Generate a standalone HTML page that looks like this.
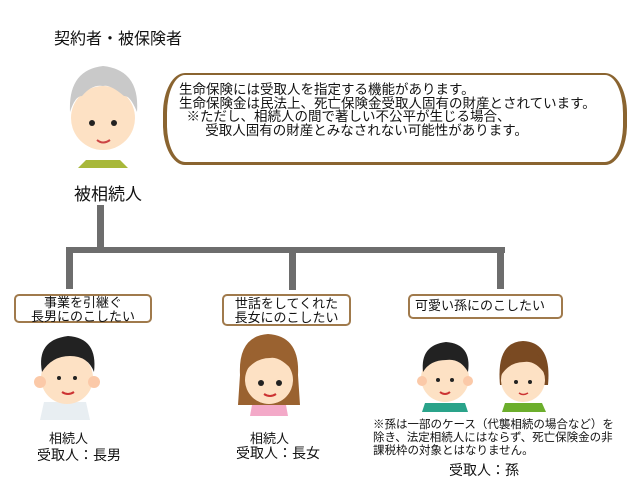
<!DOCTYPE html><html><head><meta charset="utf-8"><style>
body{margin:0;width:640px;height:480px;background:#fff;position:relative;overflow:hidden;font-family:"Liberation Sans","Noto Sans CJK JP",sans-serif;color:#111}
.t{position:absolute;white-space:nowrap}
.box{position:absolute;border:2px solid #a07a4c;border-radius:5px;background:#fff;box-sizing:border-box;font-size:13px;line-height:14px;text-align:center}
.ln{position:absolute;background:#6d6d6d}
</style></head><body>
<div class="t" style="left:54px;top:25px;font-size:16px">契約者・被保険者</div>
<div class="t" style="left:74px;top:180px;font-size:17px">被相続人</div>

<div style="position:absolute;left:163px;top:73px;width:464px;height:92px;border:4px solid #8a6430;border-radius:22px/40px;box-sizing:border-box;border-top-width:2px;border-bottom-width:3px"></div>
<div class="t" style="left:179px;top:83px;font-size:13.5px;line-height:13.6px">生命保険には受取人を指定する機能があります。<br>生命保険金は民法上、死亡保険金受取人固有の財産とされています。<br>&nbsp;&nbsp;※ただし、相続人の間で著しい不公平が生じる場合、<br>&nbsp;&nbsp;&nbsp;&nbsp;&nbsp;&nbsp;&nbsp;受取人固有の財産とみなされない可能性があります。</div>

<div class="ln" style="left:97px;top:205px;width:7px;height:48px"></div>
<div class="ln" style="left:66px;top:247px;width:439px;height:6px"></div>
<div class="ln" style="left:66px;top:247px;width:7px;height:42px"></div>
<div class="ln" style="left:289px;top:247px;width:7px;height:43px"></div>
<div class="ln" style="left:497px;top:247px;width:7px;height:42px"></div>

<div class="box" style="left:14px;top:294px;width:138px;height:29px;padding-top:0">事業を引継ぐ<br>長男にのこしたい</div>
<div class="box" style="left:222px;top:294px;width:129px;height:32px;padding-top:1px">世話をしてくれた<br>長女にのこしたい</div>
<div class="box" style="left:408px;top:294px;width:155px;height:25px;padding-top:3px;text-align:left;padding-left:5px">可愛い孫にのこしたい</div>

<svg style="position:absolute;left:0;top:0" width="640" height="480">
<path d="M86 160 L120 160 L128 168 L78 168Z" fill="#a8b83a"/>
<circle cx="103" cy="118" r="32" fill="#fde1c4"/>
<path d="M70 112 Q68 70 103 66 Q140 70 137 112 Q130 95 124 96 Q110 84 103 86 Q92 84 82 96 Q75 96 70 112Z" fill="#c9c9c9"/>
<circle cx="92" cy="123" r="3" fill="#222"/><circle cx="114" cy="123" r="3" fill="#222"/>
<path d="M97 140 Q103 145 110 140" stroke="#c44" stroke-width="2" fill="none"/>
<path d="M40 420 L90 420 L86 402 L44 402Z" fill="#e8eef2"/>
<circle cx="67" cy="378" r="26" fill="#fde1c4"/>
<circle cx="40" cy="382" r="6" fill="#fbc9a8"/><circle cx="94" cy="382" r="6" fill="#fbc9a8"/>
<path d="M42 372 Q36 340 68 336 Q98 338 94 372 Q88 356 70 356 Q52 356 42 372Z" fill="#222"/>
<circle cx="59" cy="378" r="2" fill="#222"/><circle cx="75" cy="378" r="2" fill="#222"/>
<path d="M62 392 Q68 396 74 392" stroke="#c33" stroke-width="2" fill="none"/>
<path d="M240 375 Q238 336 268 334 Q300 336 298 375 L300 405 L238 405Z" fill="#9a6230"/>
<path d="M252 405 L286 405 L288 416 L250 416Z" fill="#f3a9c8"/>
<circle cx="269" cy="380" r="24" fill="#fde1c4"/>
<path d="M245 372 Q248 345 270 346 Q292 346 294 372 Q280 356 270 358 Q255 358 245 372Z" fill="#9a6230"/>
<circle cx="261" cy="383" r="3" fill="#222"/><circle cx="279" cy="383" r="3" fill="#222"/>
<path d="M264 394 Q270 398 276 394" stroke="#c33" stroke-width="2" fill="none"/>
<path d="M425 403 L465 403 L468 412 L422 412Z" fill="#2aa38a"/>
<circle cx="445" cy="378" r="24" fill="#fde1c4"/>
<circle cx="422" cy="381" r="5" fill="#fbc9a8"/><circle cx="468" cy="381" r="5" fill="#fbc9a8"/>
<path d="M423 372 Q420 345 446 342 Q472 344 468 372 Q460 358 446 360 Q430 360 423 372Z" fill="#222"/>
<circle cx="438" cy="380" r="2" fill="#222"/><circle cx="452" cy="380" r="2" fill="#222"/>
<path d="M440 392 Q445 396 450 392" stroke="#c33" stroke-width="2" fill="none"/>
<path d="M500 385 Q496 342 523 341 Q552 342 548 385Z" fill="#7a4a22"/>
<path d="M505 403 L542 403 L546 412 L502 412Z" fill="#6cae2c"/>
<circle cx="523" cy="380" r="22" fill="#fde1c4"/>
<path d="M502 374 Q504 350 524 350 Q544 350 545 374 Q535 360 524 362 Q510 362 502 374Z" fill="#7a4a22"/>
<circle cx="516" cy="382" r="2" fill="#222"/><circle cx="530" cy="382" r="2" fill="#222"/>
<path d="M519 393 Q523 396 528 393" stroke="#c33" stroke-width="1.5" fill="none"/>
</svg>

<div class="t" style="left:49px;top:428px;font-size:13px">相続人</div>
<div class="t" style="left:37px;top:445px;font-size:14px">受取人：長男</div>
<div class="t" style="left:250px;top:428px;font-size:13px">相続人</div>
<div class="t" style="left:236px;top:443px;font-size:14px">受取人：長女</div>
<div class="t" style="left:373px;top:419px;font-size:11.5px;line-height:13px">※孫は一部のケース（代襲相続の場合など）を<br>除き、法定相続人にはならず、死亡保険金の非<br>課税枠の対象とはなりません。</div>
<div class="t" style="left:449px;top:460px;font-size:14px">受取人：孫</div>
</body></html>
